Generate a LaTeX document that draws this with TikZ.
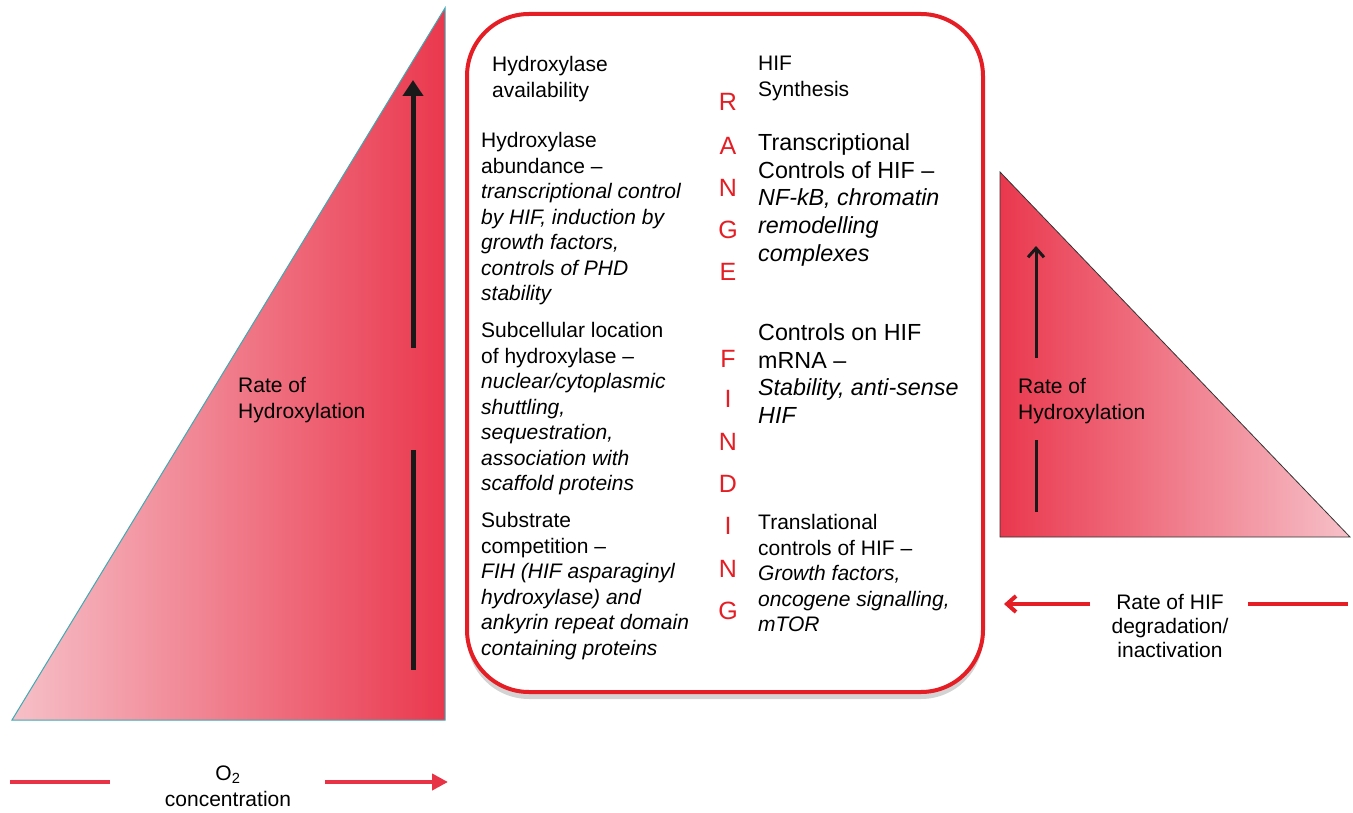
\documentclass[tikz,border=0pt]{standalone}
\usepackage{fontspec}
\setmainfont{Liberation Sans}
\usepackage{tikz}
\usetikzlibrary{positioning,arrows.meta,shadows}
\definecolor{trired}{RGB}{234,56,78}
\definecolor{tripink}{RGB}{246,192,200}
\definecolor{boxred}{RGB}{228,30,36}
\definecolor{arrred}{RGB}{232,50,70}
\definecolor{edgeteal}{RGB}{60,170,180}

\begin{document}
\begin{tikzpicture}[
  x=1pt,y=-1pt,
  txt/.style={anchor=north west,align=left,inner sep=0pt,font=\fontsize{21}{25.5}\selectfont},
  bigtxt/.style={anchor=north west,align=left,inner sep=0pt,font=\fontsize{23.3}{27.6}\selectfont},
  ctxt/.style={anchor=north,align=center,inner sep=0pt,font=\fontsize{21}{24}\selectfont},
  letter/.style={anchor=base,inner sep=0pt,text=boxred,font=\fontsize{25}{25}\selectfont},
  blk/.style={line width=5pt,black!90},
  redar/.style={line width=4pt,arrred},
]
\useasboundingbox (0,0) rectangle (1353,813);
% left triangle
\shade[left color=tripink,right color=trired] (12,720) -- (445,8) -- (445,720) -- cycle;
\draw[edgeteal,line width=1pt] (12,720) -- (445,8) -- (445,720) -- cycle;
\node[txt] (rateL) at (238,377.3) {Rate of\\Hydroxylation};
\coordinate (lA) at (413,670); \coordinate (lB) at (413,450);
\coordinate (lC) at (413,348); \coordinate (lD) at (413,80);
\draw[blk] (lA) -- (lB);
\draw[blk,-{Triangle[length=16pt,width=20pt]}] (lC) -- (lD);
% O2 axis
\node[ctxt,anchor=base] (otwo) at (228,780.5) {O\textsubscript{2}};
\node[ctxt,anchor=base] (conc) at (228,806) {concentration};
\coordinate (oA) at (10,782); \coordinate (oB) at (110,782);
\coordinate (oC) at (325,782); \coordinate (oD) at (448,782);
\draw[redar] (oA) -- (oB);
\draw[redar,-{Triangle[length=16pt,width=16pt]}] (oC) -- (oD);
% central box
\draw[boxred,line width=4pt,rounded corners=62pt,fill=white,
  drop shadow={shadow xshift=0pt,shadow yshift=-7pt,opacity=0.35}]
  (467,14) rectangle (983,692);
% left column
\node[txt] (avail) at (492,56.3) {Hydroxylase\\availability};
\node[txt] (abund) at (481,132.3) {Hydroxylase\\abundance --\\\textit{transcriptional control}\\\textit{by HIF, induction by}\\\textit{growth factors,}\\\textit{controls of PHD}\\\textit{stability}};
\node[txt] (subcell) at (481,322.3) {Subcellular location\\of hydroxylase --\\\textit{nuclear/cytoplasmic}\\\textit{shuttling,}\\\textit{sequestration,}\\\textit{association with}\\\textit{scaffold proteins}};
\node[txt] (subst) at (481,512.3) {Substrate\\competition --\\\textit{FIH (HIF asparaginyl}\\\textit{hydroxylase) and}\\\textit{ankyrin repeat domain}\\\textit{containing proteins}};
% range finding
\foreach \ch/\yy [count=\i] in {R/102,A/146,N/188,G/230,E/272,F/358,I/398,N/441,D/483,I/525,N/568,G/610}
  \node[letter] (lt\i) at (728,\yy+9) {\ch};
% right column
\node[txt] (synth) at (758,56.3) {HIF\\Synthesis};
\node[bigtxt] (transc) at (758,133.6) {Transcriptional\\Controls of HIF --\\\textit{NF-kB, chromatin}\\\textit{remodelling}\\\textit{complexes}};
\node[bigtxt] (mrna) at (758,323.6) {Controls on HIF\\mRNA --\\\textit{Stability, anti-sense}\\\textit{HIF}};
\node[txt] (transl) at (758,514.3) {Translational\\controls of HIF --\\\textit{Growth factors,}\\\textit{oncogene signalling,}\\\textit{mTOR}};
% right triangle
\shade[left color=trired,right color=tripink] (1000,172) -- (1000,537) -- (1350,537) -- cycle;
\draw[black!80,line width=0.8pt] (1000,172) -- (1000,537) -- (1350,537) -- cycle;
\node[txt] (rateR) at (1018,378.3) {Rate of\\Hydroxylation};
\coordinate (rA) at (1036,512); \coordinate (rB) at (1036,440);
\coordinate (rC) at (1036,358); \coordinate (rD) at (1036,246);
\draw[black!90,line width=3pt] (rA) -- (rB);
\draw[black!90,line width=3pt,-{Straight Barb[length=9pt,width=16pt]}] (rC) -- (rD);
% HIF degradation axis
\node[ctxt] (degr) at (1170,594.3) {Rate of HIF\\degradation/\\inactivation};
\coordinate (dA) at (1090,604); \coordinate (dB) at (1004,604);
\coordinate (dC) at (1248,604); \coordinate (dD) at (1348,604);
\draw[redar,boxred,-{Straight Barb[length=9pt,width=16pt]}] (dA) -- (dB);
\draw[redar,boxred] (dC) -- (dD);
\end{tikzpicture}
\end{document}
